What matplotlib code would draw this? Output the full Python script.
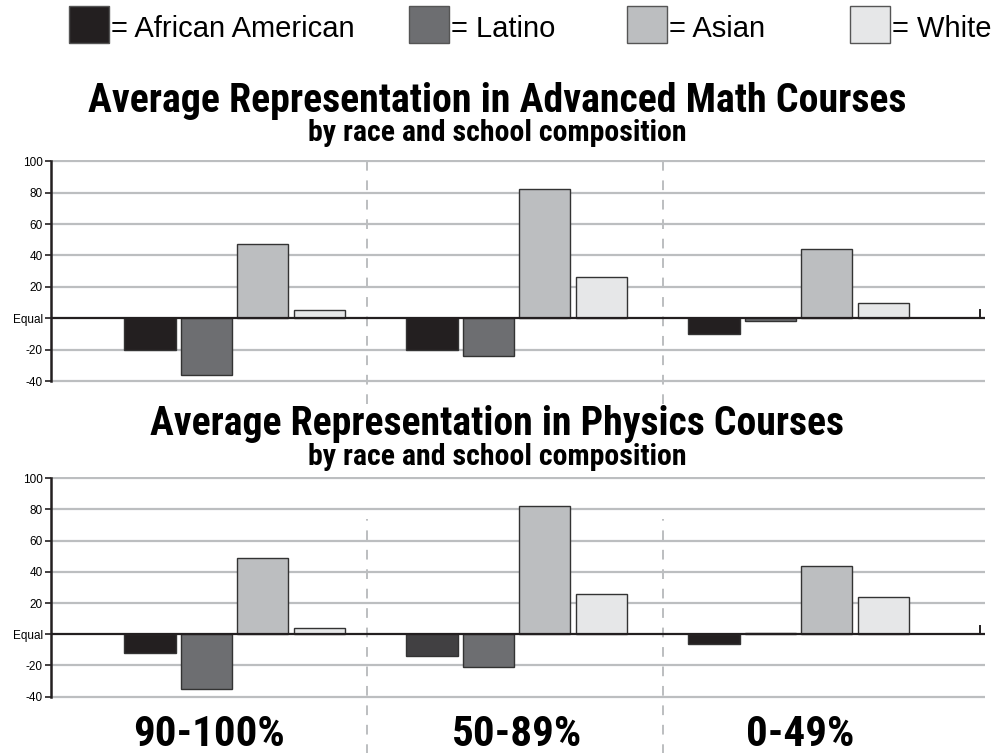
import matplotlib
matplotlib.use("Agg")
import matplotlib.pyplot as plt
from matplotlib.patches import Rectangle
import numpy as np

plt.rcParams['font.family'] = ['Roboto Condensed', 'DejaVu Sans']

# data
races = ["African American", "Latino", "Asian", "White"]
compositions = ["90-100%", "50-89%", "0-49%"]
math_vals = {
    "African American": [-20, -20, -10],
    "Latino": [-36, -24, -2],
    "Asian": [47, 82, 44],
    "White": [5, 26, 10],
}
physics_vals = {
    "African American": [-12, -14, -6],
    "Latino": [-35, -21, 1],
    "Asian": [49, 82, 44],
    "White": [4, 26, 24],
}
yticks = [-40, -20, 0, 20, 40, 60, 80, 100]
ytick_labels = ["-40", "-20", "Equal", "20", "40", "60", "80", "100"]

colors = ["#231f20", "#6d6e71", "#bcbec0", "#e6e7e8"]
grid_col = "#bcbec0"
line_col = "#231f20"

W, H = 995, 753
fig = plt.figure(figsize=(W / 100, H / 100), dpi=100)


def fx(px):
    return px / W


def fy(py):
    return 1 - py / H


def draw_panel(ax, vals, dash_span):
    x = np.arange(len(compositions))
    step = 0.2
    width = 0.181
    for i, race in enumerate(races):
        ax.bar(x + (i - 1.5) * step, vals[race], width,
               color=colors[i], edgecolor="#333333", linewidth=1.0, zorder=3)
    ax.set_xlim(-0.651, 2.661)
    ax.set_ylim(-41.5, 101)
    for t in yticks:
        if t == 0:
            continue
        ax.axhline(t, color=grid_col, lw=1.6, zorder=1)
    ax.axhline(0, color=line_col, lw=1.6, zorder=4)
    # small tick at the right end of the equal line
    ax.plot([2.644, 2.644], [0, 5], color=line_col, lw=1.4, zorder=4)
    for xd in [0.47, 1.52]:
        ax.axvline(xd, ymin=dash_span[0], ymax=dash_span[1], color=grid_col,
                   lw=1.4, ls=(0, (5, 5)), clip_on=False, zorder=2)
    for s in ["top", "right", "bottom"]:
        ax.spines[s].set_visible(False)
    ax.spines["left"].set_color(line_col)
    ax.spines["left"].set_linewidth(1.8)
    ax.spines["left"].set_bounds(-40, 100)
    ax.set_xticks([])
    ax.set_yticks(yticks)
    ax.set_yticklabels(ytick_labels, family=['Liberation Sans', 'DejaVu Sans'])
    ax.tick_params(axis="y", length=4, width=1.2, color=line_col, labelsize=8.5, pad=2)


# top panel: advanced math
ax1 = fig.add_axes([fx(51), fy(383.5), fx(985 - 51), (383.5 - 159.6) / H])
draw_panel(ax1, math_vals, (-0.09, 1.0))

# bottom panel: physics
ax2 = fig.add_axes([fx(51), fy(699.0), fx(985 - 51), (699.0 - 476.7) / H])
draw_panel(ax2, physics_vals, (-0.25, 0.81))
# the 50-89% African American bar is a different shade in the source
ax2.patches[1].set_facecolor("#414042")

label_x = [-0.09, 1.0, 2.005]
for lx, lab in zip(label_x, compositions):
    ax2.text(lx, -71.5, lab, ha="center", va="baseline",
             fontsize=31, fontweight="bold", clip_on=False)

# titles
fig.text(0.5, fy(111.7), "Average Representation in Advanced Math Courses",
         ha="center", va="baseline", fontsize=28.7, fontweight="bold")
fig.text(0.5, fy(141), "by race and school composition",
         ha="center", va="baseline", fontsize=21.5, fontweight="bold")
fig.text(0.5, fy(435), "Average Representation in Physics Courses",
         ha="center", va="baseline", fontsize=28.6, fontweight="bold")
fig.text(0.5, fy(465), "by race and school composition",
         ha="center", va="baseline", fontsize=21.5, fontweight="bold")

# legend
leg_x = [69, 409, 627, 850]
for race, c, lx in zip(races, colors, leg_x):
    fig.patches.append(Rectangle((fx(lx), fy(42.5)), fx(40), 36.5 / H, transform=fig.transFigure,
                                 facecolor=c, edgecolor="#555555", linewidth=1.0))
    fig.text(fx(lx + 42), fy(37.3), "= " + race, ha="left", va="baseline", fontsize=21,
             family=['Liberation Sans', 'DejaVu Sans'])

fig.savefig("out.png", dpi=100)
